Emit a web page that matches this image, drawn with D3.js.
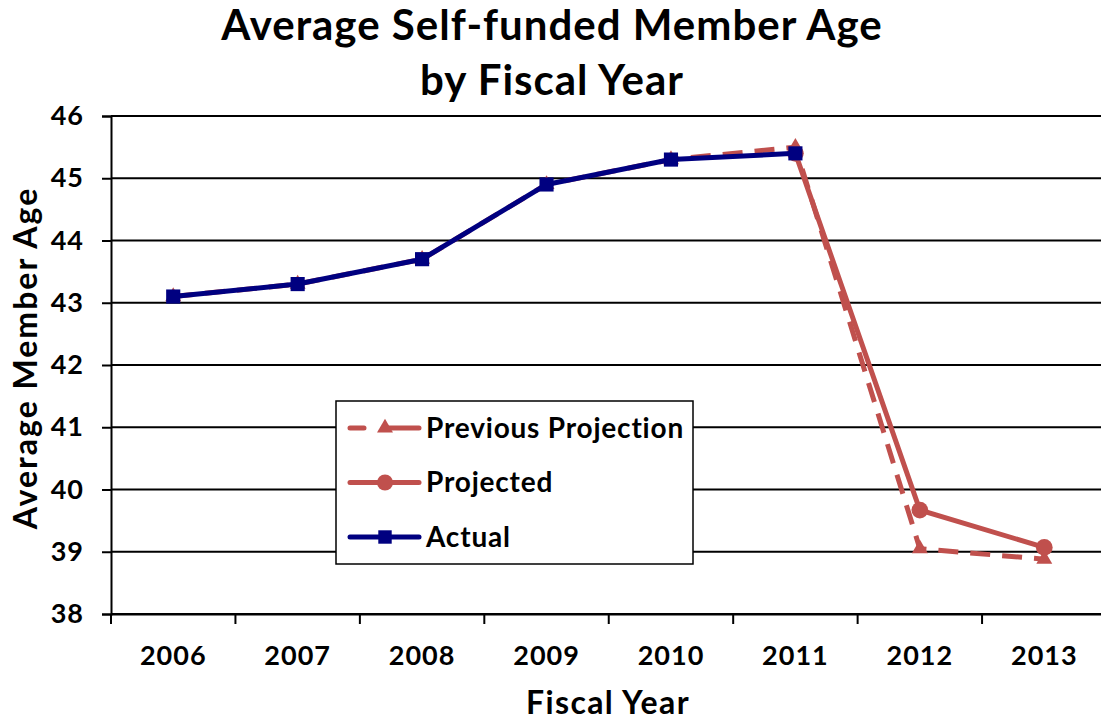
<!DOCTYPE html>
<html lang="en">
<head>
  <meta charset="UTF-8">
  <title>Average Self-funded Member Age</title>
  <script src="https://d3js.org/d3.v7.min.js"></script>
  <style>
    body { margin: 0; background: #fff; }
    text { font-family: Lato, "Open Sans", sans-serif; font-weight: bold; fill: #000; }
  </style>
</head>
<body>
  <div id="chart"></div>

  <script>
    // data
    const years = ["2006", "2007", "2008", "2009", "2010", "2011", "2012", "2013"];
    const actual = [43.1, 43.3, 43.7, 44.9, 45.3, 45.4, null, null];
    const projected = [null, null, null, null, null, 45.4, 39.67, 39.07];
    const previousProjection = [43.1, 43.3, 43.7, 44.9, 45.3, 45.5, 39.05, 38.88];
    const yTicks = [38, 39, 40, 41, 42, 43, 44, 45, 46];

    const width = 1101;
    const height = 721;
    const plotLeft = 111, plotTop = 116, plotW = 995.5, plotH = 498;

    const red = "#C0504D";
    const navy = "#000080";

    const svg = d3.select("#chart")
      .append("svg")
      .attr("width", width)
      .attr("height", height);

    const x = d3.scaleBand().domain(years).range([plotLeft, plotLeft + plotW]);
    const y = d3.scaleLinear().domain([38, 46]).range([plotTop + plotH, plotTop]);

    // gridlines
    svg.append("g")
      .selectAll("line")
      .data(yTicks)
      .enter()
      .append("line")
      .attr("x1", plotLeft)
      .attr("x2", plotLeft + plotW)
      .attr("y1", d => y(d))
      .attr("y2", d => y(d))
      .attr("stroke", "#000")
      .attr("stroke-width", 2);

    // y axis
    const yAxis = svg.append("g")
      .attr("transform", "translate(" + plotLeft + ",0)")
      .call(d3.axisLeft(y).tickValues(yTicks).tickSize(9).tickPadding(18));
    yAxis.select(".domain").attr("stroke-width", 2);
    yAxis.selectAll(".tick line").attr("stroke-width", 2);
    yAxis.selectAll(".tick text").style("font-size", "27px").style("letter-spacing", "1px");

    // x axis
    const xAxis = svg.append("g")
      .attr("transform", "translate(0," + (plotTop + plotH) + ")")
      .call(d3.axisBottom(x).tickSize(0).tickPadding(32));
    xAxis.select(".domain").attr("stroke-width", 2);
    xAxis.selectAll(".tick text").style("font-size", "27px").style("letter-spacing", "1px");

    // category boundary ticks
    svg.append("g")
      .selectAll("line")
      .data(years)
      .enter()
      .append("line")
      .attr("x1", d => x(d))
      .attr("x2", d => x(d))
      .attr("y1", plotTop + plotH)
      .attr("y2", plotTop + plotH + 10)
      .attr("stroke", "#000")
      .attr("stroke-width", 2);

    const cx = d => x(d) + x.bandwidth() / 2;

    function drawSeries(values, color, dash, marker) {
      const pts = years.map((yr, i) => ({ yr: yr, v: values[i] })).filter(d => d.v !== null);
      const line = d3.line().x(d => cx(d.yr)).y(d => y(d.v));
      svg.append("path")
        .datum(pts)
        .attr("d", line)
        .attr("fill", "none")
        .attr("stroke", color)
        .attr("stroke-width", 5)
        .attr("stroke-linejoin", "round")
        .attr("stroke-dasharray", dash);
      const sym = d3.symbol().type(marker.type).size(marker.size);
      svg.append("g")
        .selectAll("path")
        .data(pts)
        .enter()
        .append("path")
        .attr("transform", d => "translate(" + cx(d.yr) + "," + y(d.v) + ")")
        .attr("d", sym)
        .attr("fill", color);
    }

    drawSeries(previousProjection, red, "20,12", { type: d3.symbolTriangle, size: 110 });
    drawSeries(projected, red, null, { type: d3.symbolCircle, size: 220 });
    drawSeries(actual, navy, null, { type: d3.symbolSquare, size: 200 });

    // legend
    const legend = svg.append("g").attr("transform", "translate(336,401)");
    legend.append("rect")
      .attr("width", 357)
      .attr("height", 163)
      .attr("fill", "#fff")
      .attr("stroke", "#000")
      .attr("stroke-width", 1.5);

    const legendItems = [
      { name: "Previous Projection", color: red, dash: true, type: d3.symbolTriangle, size: 110 },
      { name: "Projected", color: red, dash: false, type: d3.symbolCircle, size: 200 },
      { name: "Actual", color: navy, dash: false, type: d3.symbolSquare, size: 180 }
    ];

    const rows = legend.selectAll(".row")
      .data(legendItems)
      .enter()
      .append("g")
      .attr("transform", (d, i) => "translate(0," + (27 + i * 54.5) + ")");

    rows.append("line")
      .attr("x1", 14)
      .attr("x2", 83)
      .attr("stroke", d => d.color)
      .attr("stroke-width", 5)
      .attr("stroke-linecap", "round")
      .attr("stroke-dasharray", d => d.dash ? "14,20,40" : null);

    rows.append("path")
      .attr("transform", "translate(49,0)")
      .attr("d", d => d3.symbol().type(d.type).size(d.size)())
      .attr("fill", d => d.color);

    rows.append("text")
      .attr("x", 90)
      .attr("dy", "0.35em")
      .style("font-size", "28px")
      .style("letter-spacing", "0.8px")
      .text(d => d.name);

    // titles
    svg.append("text")
      .attr("x", 552)
      .attr("y", 40)
      .attr("text-anchor", "middle")
      .style("font-size", "42px")
      .style("letter-spacing", "1px")
      .text("Average Self-funded Member Age");
    svg.append("text")
      .attr("x", 552)
      .attr("y", 95)
      .attr("text-anchor", "middle")
      .style("font-size", "42px")
      .style("letter-spacing", "1px")
      .text("by Fiscal Year");

    svg.append("text")
      .attr("x", 608)
      .attr("y", 714)
      .attr("text-anchor", "middle")
      .style("font-size", "32px")
      .style("letter-spacing", "1.4px")
      .text("Fiscal Year");

    svg.append("text")
      .attr("transform", "translate(37,358) rotate(-90)")
      .attr("text-anchor", "middle")
      .style("font-size", "32px")
      .style("letter-spacing", "2px")
      .text("Average Member Age");
  </script>
</body>
</html>
